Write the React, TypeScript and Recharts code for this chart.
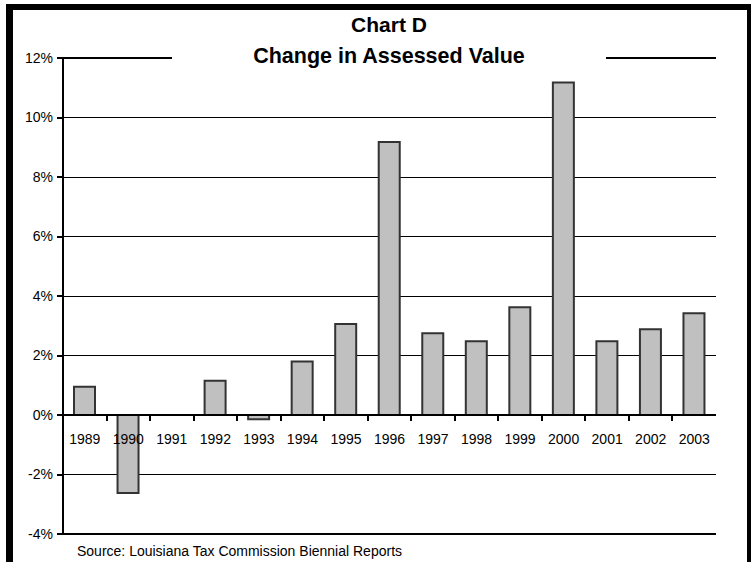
import React from 'react';
import { BarChart, Bar, XAxis, YAxis, CartesianGrid, ReferenceLine } from 'recharts';

const years = ['1989', '1990', '1991', '1992', '1993', '1994', '1995', '1996', '1997', '1998', '1999', '2000', '2001', '2002', '2003'];
const changes = [0.95, -2.62, 0, 1.15, -0.14, 1.8, 3.06, 9.18, 2.75, 2.48, 3.62, 11.18, 2.48, 2.88, 3.42];
const yTicks = [-4, -2, 0, 2, 4, 6, 8, 10, 12];
const titleLine1 = 'Chart D';
const titleLine2 = 'Change in Assessed Value';
const sourceNote = 'Source: Louisiana Tax Commission Biennial Reports';

const data = years.map((year, i) => ({ year, value: changes[i] }));

const W = 751;
const H = 562;
const M = { top: 58, right: 35, bottom: 0, left: 13 };
const YW = 50;
const XH = 28;
const yMin = -4;
const yMax = 12;
const plotLeft = M.left + YW;
const plotW = W - plotLeft - M.right;
const plotH = H - M.top - M.bottom - XH;
const zeroY = M.top + (plotH * (yMax - 0)) / (yMax - yMin);
const band = plotW / years.length;
const font = "'Liberation Sans', Arial, Helvetica, sans-serif";

function YearTick(props: any) {
  const { x, index, payload } = props;
  return (
    <g>
      {index > 0 && (
        <line x1={x - band / 2} x2={x - band / 2} y1={zeroY} y2={zeroY + 6} stroke="#000" strokeWidth={2} shapeRendering="crispEdges" />
      )}
      <text x={x} y={zeroY + 29} textAnchor="middle" fontSize={14} fill="#000" fontFamily={font}>
        {payload.value}
      </text>
    </g>
  );
}

export default function App() {
  return (
    <div style={{ position: 'absolute', left: 0, top: 0, width: W, height: H, background: '#fff', fontFamily: font, overflow: 'hidden' }}>
      <style>{`.recharts-cartesian-grid line, .recharts-reference-line line, .recharts-cartesian-axis-line, .recharts-cartesian-axis-tick-line { shape-rendering: crispEdges; }`}</style>
      <div
        style={{
          position: 'absolute',
          left: 6,
          top: 4,
          width: 745,
          height: 558,
          boxSizing: 'border-box',
          borderLeft: '7px solid #000',
          borderTop: '6px solid #000',
          borderRight: '4px solid #000',
        }}
      />
      <BarChart width={W} height={H} data={data} margin={M} style={{ position: 'absolute', left: 0, top: 0 }}>
        <CartesianGrid horizontal vertical={false} stroke="#000" strokeWidth={1} />
        <XAxis
          dataKey="year"
          height={XH}
          axisLine={{ stroke: '#000', strokeWidth: 2 }}
          tickLine={false}
          tick={<YearTick />}
          interval={0}
        />
        <YAxis
          domain={[yMin, yMax]}
          ticks={yTicks}
          width={YW}
          interval={0}
          tickFormatter={(v: number) => `${v}%`}
          axisLine={{ stroke: '#000', strokeWidth: 2 }}
          tickLine={{ stroke: '#000', strokeWidth: 2 }}
          tickSize={6}
          tickMargin={4}
          tick={{ fill: '#000', fontSize: 14, fontFamily: font }}
        />
        <YAxis
          yAxisId="r"
          orientation="right"
          domain={[yMin, yMax]}
          ticks={yTicks}
          width={0}
          tick={false}
          tickLine={false}
          axisLine={{ stroke: '#000', strokeWidth: 2 }}
        />
        <ReferenceLine y={12} stroke="#000" strokeWidth={2} />
        <ReferenceLine y={0} stroke="#000" strokeWidth={2} />
        <Bar dataKey="value" fill="#c0c0c0" stroke="#333" strokeWidth={2} barSize={21} isAnimationActive={false} />
      </BarChart>
      <div
        style={{
          position: 'absolute',
          left: 0,
          width: 778,
          top: 13,
          height: 24,
          lineHeight: '24px',
          textAlign: 'center',
          fontWeight: 'bold',
          fontSize: 21,
          color: '#000',
        }}
      >
        {titleLine1}
      </div>
      <div
        style={{
          position: 'absolute',
          left: 172,
          width: 434,
          top: 44,
          height: 24,
          lineHeight: '24px',
          textAlign: 'center',
          fontWeight: 'bold',
          fontSize: 21.5,
          color: '#000',
          background: '#fff',
        }}
      >
        {titleLine2}
      </div>
      <div
        style={{
          position: 'absolute',
          left: 77,
          top: 543,
          height: 16,
          lineHeight: '16px',
          fontSize: 14,
          color: '#000',
          whiteSpace: 'nowrap',
        }}
      >
        {sourceNote}
      </div>
    </div>
  );
}
